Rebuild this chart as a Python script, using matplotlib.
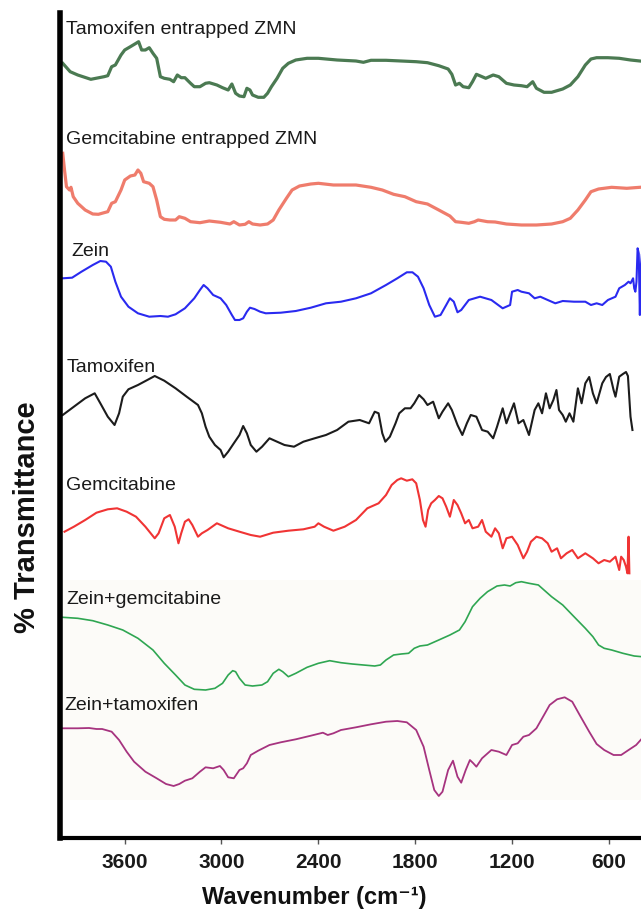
import matplotlib
matplotlib.use("Agg")
import matplotlib.pyplot as plt

plt.rcParams["font.family"] = ["Liberation Sans", "DejaVu Sans"]

# FTIR spectra (wavenumber in cm-1, arbitrary %T units)
wn_tam_zmn = [3983, 3937, 3890, 3809, 3727, 3704, 3680, 3657, 3622, 3599, 3564, 3529, 3513, 3494,
              3471, 3447, 3424, 3401, 3378, 3354, 3319, 3296, 3273, 3249, 3226, 3191, 3168, 3133,
              3098, 3075, 3028, 2993, 2958, 2935, 2912, 2888, 2860, 2842, 2823, 2807, 2772, 2737,
              2714, 2690, 2655, 2620, 2585, 2539, 2469, 2399, 2283, 2166, 2120, 2073, 1980, 1886,
              1793, 1723, 1653, 1595, 1572, 1549, 1525, 1502, 1467, 1444, 1420, 1385, 1362, 1316,
              1281, 1234, 1187, 1141, 1106, 1071, 1048, 1001, 954, 885, 838, 791, 745, 710, 675,
              605, 535, 465, 407]
t_tam_zmn = [46.7, 38.3, 35, 30.7, 33.3, 34.3, 43.3, 45, 55, 60, 63.3, 66.7, 68.3, 60,
             60, 62.3, 56.7, 51.7, 33.3, 31.7, 30.7, 28.3, 35, 32.3, 32.3, 26.7, 23.3, 23.3,
             26.7, 27.3, 25, 22.3, 20, 26, 16.7, 14, 13.3, 21.7, 20, 15, 12.7, 12.7,
             16.7, 23.3, 31.7, 41.7, 46.7, 50, 51.7, 51.7, 50, 49, 47.7, 49.7, 49.7, 49,
             48.3, 47.3, 44.3, 41, 35.7, 25, 26.7, 23.3, 22.3, 28.3, 35.7, 33.3, 31.7, 35,
             33.3, 26.7, 25, 24.3, 23.3, 28.3, 21.7, 17.7, 17.7, 21, 25, 33.3, 45, 51, 52.3,
             52.3, 51.7, 50, 49]

wn_gem_zmn = [3983, 3972, 3960, 3941, 3932, 3918, 3890, 3844, 3797, 3762, 3727, 3704, 3680, 3657,
              3622, 3599, 3564, 3536, 3517, 3499, 3482, 3447, 3424, 3401, 3378, 3354, 3319, 3284,
              3261, 3226, 3191, 3133, 3075, 3005, 2947, 2923, 2888, 2853, 2830, 2807, 2760, 2714,
              2679, 2644, 2597, 2562, 2516, 2446, 2399, 2306, 2166, 2073, 2003, 1933, 1863, 1793,
              1723, 1653, 1584, 1549, 1514, 1467, 1432, 1409, 1351, 1304, 1234, 1141, 1048, 954,
              885, 838, 791, 745, 710, 663, 582, 488, 407]
t_gem_zmn = [81.7, 65, 48.3, 45, 47.7, 38.3, 31.7, 25, 21, 20.7, 22.3, 23.3, 31.7, 33.3,
             45, 55, 59, 60, 65, 61.7, 53.3, 51.7, 48.3, 35, 18.3, 15.7, 15, 15,
             18.3, 16.7, 13.3, 12.3, 14, 12.7, 11, 13.3, 10, 10.7, 13.3, 11, 10, 11,
             15, 25, 36.7, 45, 49, 51, 51.7, 50, 50, 47.7, 45, 40.7, 38.3, 33.3,
             31, 25, 19, 13.3, 12.7, 11.7, 13.3, 15, 13.3, 13, 11, 10, 10, 11,
             13.3, 16.7, 25, 35, 43.3, 46, 47.7, 46.7, 47.7]

wn_zein = [3983, 3925, 3867, 3797, 3750, 3715, 3685, 3657, 3622, 3576, 3517, 3447, 3378, 3331,
           3284, 3226, 3168, 3133, 3110, 3086, 3051, 3005, 2970, 2935, 2916, 2888, 2865, 2842,
           2823, 2795, 2760, 2725, 2632, 2539, 2446, 2352, 2259, 2166, 2073, 1980, 1910, 1851,
           1816, 1782, 1747, 1712, 1677, 1642, 1607, 1584, 1560, 1537, 1514, 1467, 1397, 1327,
           1257, 1211, 1199, 1164, 1141, 1094, 1059, 1024, 978, 931, 885, 815, 745, 710, 675,
           640, 605, 558, 535, 500, 477, 465, 449, 442, 435, 428, 421, 414, 407, 402, 395]
t_zein = [71.7, 72.3, 78.3, 85, 89, 88.3, 83.3, 68.3, 53.3, 43.3, 36.7, 33.3, 34, 33.3,
          35.7, 41.7, 51.7, 60, 65, 61.7, 55, 51.7, 45, 35, 30, 30, 31.7, 38.3,
          42.3, 41, 38.3, 36.7, 37.3, 39, 42.3, 46.7, 48.3, 51.7, 56.7, 65, 71.7, 77.7,
          77.7, 73.3, 61.7, 45, 33.3, 35, 45, 51.7, 48.3, 37.7, 40, 50, 53.3, 50,
          41.7, 45, 58.3, 60, 58.3, 56.7, 51.7, 53.3, 50, 46.7, 49, 48.3, 48.3, 45, 46.7,
          45, 50, 53.3, 61.7, 65, 68.3, 66.7, 71.7, 61.7, 58.3, 68.3, 101.7, 96.7, 35, 81.7, 95]

wn_tam = [3983, 3914, 3844, 3785, 3750, 3704, 3662, 3634, 3611, 3576, 3517, 3459, 3413, 3354,
          3284, 3215, 3145, 3121, 3098, 3075, 3040, 3005, 2986, 2958, 2923, 2888, 2865, 2842,
          2818, 2783, 2748, 2702, 2655, 2609, 2550, 2492, 2422, 2352, 2283, 2213, 2143, 2085,
          2050, 2026, 2003, 1984, 1956, 1921, 1898, 1863, 1828, 1805, 1775, 1747, 1723, 1688,
          1653, 1630, 1595, 1572, 1537, 1507, 1479, 1455, 1420, 1385, 1350, 1316, 1292, 1257,
          1234, 1211, 1187, 1159, 1129, 1094, 1059, 1036, 1013, 989, 966, 943, 924, 908, 885,
          866, 843, 819, 791, 768, 745, 721, 698, 675, 640, 617, 593, 570, 558, 535, 512, 493,
          481, 465, 453]
t_tam = [55, 63.3, 71.7, 76.7, 66.7, 53.3, 45, 56.7, 73.3, 80.7, 85, 90, 94, 89.3,
         81.7, 73.3, 65, 56.7, 43.3, 33.3, 25, 20, 12.7, 18.3, 26.7, 35, 44, 36.7,
         25, 18.3, 23.3, 31.7, 28.3, 25, 23.3, 28.3, 31.7, 35, 40, 48.3, 50, 46.7,
         58.3, 56.7, 36.7, 28.3, 33.3, 46.7, 56.7, 61.7, 61.7, 66.7, 75, 70.7, 65, 68.3,
         51.7, 58.3, 66.7, 60, 45, 35, 46.7, 55, 53.3, 40, 38.3, 31.7, 43.3, 61.7,
         46.7, 56.7, 66.7, 46.7, 50, 35, 60, 66.7, 56.7, 76.7, 61.7, 70, 80, 60, 55,
         48.3, 56.7, 48.3, 81.7, 66.7, 86.7, 93, 76.7, 66.7, 86.7, 93, 96, 80, 73.3, 93.3, 96, 98,
         94, 53.3, 40]

wn_gem = [3972, 3914, 3844, 3774, 3704, 3646, 3587, 3529, 3471, 3413, 3389, 3354, 3319, 3289,
          3266, 3249, 3226, 3203, 3180, 3145, 3121, 3086, 3028, 2958, 2888, 2818, 2760, 2679,
          2585, 2492, 2422, 2399, 2364, 2306, 2236, 2166, 2096, 2026, 1980, 1945, 1910, 1886,
          1851, 1817, 1793, 1770, 1751, 1735, 1719, 1700, 1677, 1653, 1630, 1607, 1584, 1560,
          1537, 1514, 1490, 1467, 1444, 1409, 1385, 1362, 1327, 1304, 1281, 1257, 1234, 1199,
          1164, 1129, 1106, 1082, 1048, 1013, 978, 954, 920, 896, 861, 826, 791, 745, 698,
          663, 628, 593, 558, 535, 523, 507, 493, 484, 477, 472]
t_gem = [78.3, 83.3, 90, 97.3, 100.7, 101.7, 98.3, 93.3, 83.3, 71.7, 76.7, 91.7, 95, 83.3,
         66.7, 76.7, 88.3, 90.7, 85, 73.3, 76.7, 80, 86.7, 81.7, 78.3, 75, 73.3, 77.3,
         79.3, 80.7, 83.3, 86.7, 83.3, 79.3, 83.3, 90, 101.7, 106.7, 115, 125, 130, 131.7,
         129.3, 130.7, 126.7, 110, 90, 83.3, 100, 106.7, 110, 114, 111.7, 103.3, 93.3, 110,
         105, 96.7, 86.7, 90, 81.7, 83.3, 90, 78.3, 73.3, 81.7, 76.7, 61.7, 71.7, 73.3,
         65, 51.7, 58.3, 68.3, 73.3, 71.7, 66.7, 58.3, 61.7, 51.7, 56.7, 60, 51.7, 56.7, 51.7,
         46.7, 50, 48.3, 53.3, 40, 53.3, 50, 43.3, 36.7, 73.3, 36.7]

wn_zein_gem = [3983, 3890, 3797, 3704, 3611, 3517, 3424, 3354, 3284, 3226, 3168, 3098, 3040, 2993,
               2958, 2930, 2912, 2888, 2853, 2807, 2749, 2714, 2679, 2644, 2620, 2585, 2539, 2469,
               2399, 2329, 2259, 2189, 2120, 2050, 2015, 1980, 1933, 1886, 1840, 1805, 1770, 1723,
               1653, 1584, 1525, 1490, 1444, 1397, 1351, 1292, 1246, 1211, 1176, 1141, 1094, 1036,
               1001, 954, 885, 815, 745, 698, 663, 628, 582, 512, 442, 395]
t_zein_gem = [82.7, 81.7, 79.3, 75, 70, 61.7, 50, 36.7, 25, 15, 10.7, 10, 11.7, 16.7,
              25, 29.3, 28.3, 21.7, 15, 14, 15, 18.3, 26.7, 30.7, 28.3, 23.3, 26.7, 32.7,
              36.7, 39.3, 37.3, 36, 35, 34, 35, 40, 45, 46, 46.7, 51.7, 54, 55,
              60, 65, 70, 78.3, 93.3, 101.7, 108.3, 114, 115, 114, 117.3, 118.3, 116.7, 115,
              110, 103.3, 95, 83.3, 71.7, 63.3, 55, 51.7, 50, 46.7, 44, 43.3]

wn_zein_tam = [3983, 3890, 3820, 3774, 3739, 3680, 3634, 3587, 3541, 3471, 3401, 3343, 3296, 3261,
               3226, 3180, 3133, 3098, 3051, 3009, 2986, 2958, 2923, 2888, 2865, 2842, 2818, 2772,
               2702, 2632, 2539, 2446, 2371, 2341, 2306, 2259, 2166, 2073, 1980, 1910, 1851, 1793,
               1747, 1712, 1681, 1653, 1630, 1595, 1565, 1537, 1514, 1486, 1460, 1439, 1420, 1385,
               1327, 1281, 1234, 1199, 1164, 1129, 1094, 1048, 1001, 966, 920, 873, 826, 780, 721,
               675, 628, 570, 523, 477, 430, 384]
t_zein_tam = [96.7, 96.7, 97, 96, 96, 93.3, 85, 73.3, 63.3, 53.3, 46.7, 41, 39, 41,
              44.3, 46.7, 53.3, 57.7, 56.7, 59, 55, 47.7, 46.7, 55, 56.7, 61.7, 70, 74.3,
              80, 82.7, 85.7, 89.3, 92.3, 90, 91.7, 95, 97.7, 100.7, 103.3, 104, 102.7, 95,
              78.3, 55, 35, 29, 33.3, 55, 64.3, 48.3, 42.3, 55, 65, 61.7, 58.3, 66.7,
              75, 73.3, 70, 80, 81.7, 88.3, 90, 96.7, 110, 120, 125.7, 127.7, 123.3, 110, 93.3,
              81, 75, 70, 70, 75, 80, 88.3]

names = ["Tamoxifen entrapped ZMN", "Gemcitabine entrapped ZMN", "Zein", "Tamoxifen",
         "Gemcitabine", "Zein+gemcitabine", "Zein+tamoxifen"]
wavenumbers = [wn_tam_zmn, wn_gem_zmn, wn_zein, wn_tam, wn_gem, wn_zein_gem, wn_zein_tam]
transmittance = [t_tam_zmn, t_gem_zmn, t_zein, t_tam, t_gem, t_zein_gem, t_zein_tam]
offsets = [725, 600, 485, 365, 225, 135, 10]
label_y = [805, 695, 583, 468, 350, 235, 130]
label_x = [3960, 3960, 3930, 3960, 3960, 3960, 3970]

colors = ["#4b7a52", "#ef7c6c", "#2a2af0", "#1c1c1c", "#f03434", "#2fa652", "#a6337f"]
widths = [2.3, 2.3, 1.5, 1.5, 1.5, 1.2, 1.3]

fig = plt.figure(figsize=(6.41, 9.16), dpi=100)
ax = fig.add_axes([60 / 641, 78 / 916, 581 / 641, 825 / 916])

# faint cream backdrop behind the lower spectra
ax.axhspan(35, 255, color="#fcfbf8", zorder=0, lw=0)

for wn, t, off, c, lw in zip(wavenumbers, transmittance, offsets, colors, widths):
    ax.plot(wn, [v + off for v in t], color=c, lw=lw, solid_joinstyle="round", zorder=2)

for name, lx, ly in zip(names, label_x, label_y):
    ax.text(lx, ly, name, fontsize=14, color="#1a1a1a", va="center", ha="left")

ax.set_xlim(4000, 400)
ax.set_ylim(-3, 822)
ax.set_xticks([3600, 3000, 2400, 1800, 1200, 600])
ax.set_yticks([])
for lab in ax.get_xticklabels():
    lab.set_fontweight("bold")
ax.tick_params(axis="x", direction="out", length=4, width=1, color="#555555",
               labelsize=15, pad=7, labelcolor="#1a1a1a")

ax.spines["top"].set_visible(False)
ax.spines["right"].set_visible(False)
ax.spines["left"].set_linewidth(4)
ax.spines["bottom"].set_linewidth(3)

ax.set_xlabel("Wavenumber (cm\u207b\u00b9)", fontsize=17, fontweight="bold", color="#111111",
              va="center")
ax.xaxis.set_label_coords((314 - 60) / 581, -0.072)
fig.text(0.042, 0.435, "% Transmittance", rotation=90, fontsize=21, fontweight="bold",
         ha="center", va="center", color="#111111")

fig.savefig("out.png", dpi=100)
